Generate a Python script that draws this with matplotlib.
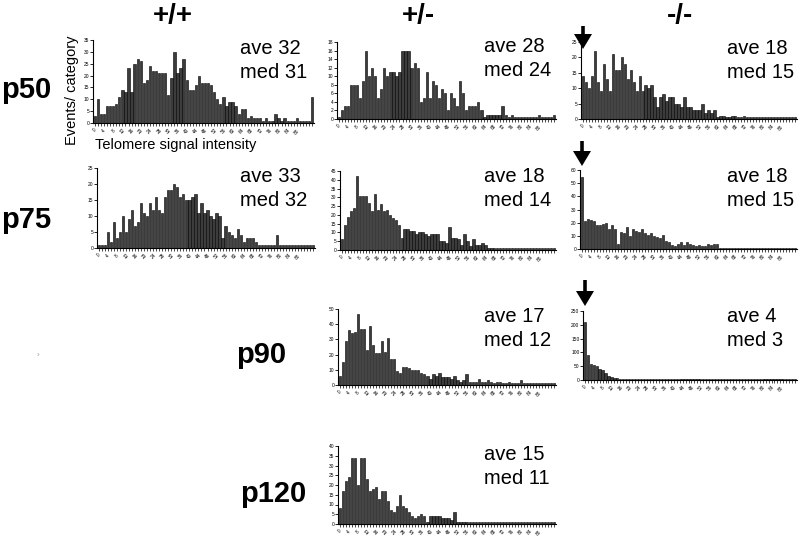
import numpy as np
import matplotlib.pyplot as plt
from matplotlib.patches import Polygon

plt.rcParams['font.family'] = ['Liberation Sans', 'DejaVu Sans']

W, H = 800, 541

tick_labels = ['0', '4', '8', '12', '16', '20', '24', '28', '32', '36', '40', '44',
               '48', '52', '56', '60', '64', '68', '72', '76', '80', '84', '88']

wt_p50 = [3, 10, 4, 4, 7, 7, 7, 8, 11, 14,
          13, 23, 13, 25, 27, 26, 17, 18, 24, 22,
          22, 21, 21, 21, 12, 19, 30, 21, 23, 27,
          18, 14, 14, 16, 20, 17, 17, 17, 16, 13,
          10, 8, 11, 7, 9, 9, 7, 4, 6, 6,
          2, 3, 2, 2, 2, 1, 2, 1, 1, 4,
          2, 1, 2, 1, 1, 1, 2, 1, 1, 1,
          1, 11]
het_p50 = [0.5, 2, 3, 3, 8, 8, 8, 5, 9, 16,
           10, 12, 10, 5, 7, 12, 10, 11, 11, 10,
           11, 16, 16, 16, 12, 13, 12, 4, 5, 11,
           5, 9, 8, 5, 7, 6, 2, 6, 5, 3,
           9, 6, 2, 3, 3, 3, 4, 2, 0.5, 1,
           1, 1, 1, 1, 3, 1, 0.5, 1, 0.5, 0.5,
           0.5, 0.5, 0.5, 0.5, 0.5, 0.5, 1, 0.5, 0.5, 0.5,
           0.5, 1]
ko_p50 = [14, 12, 10, 14, 22, 12, 9, 18, 13, 9,
          21, 16, 16, 20, 18, 13, 16, 12, 9, 14,
          9, 11, 10, 11, 7, 4, 7, 8, 6, 7,
          7, 5, 5, 4, 7, 4, 4, 3, 3, 3,
          5, 2, 3, 2, 3, 0.5, 1, 1, 0.5, 0.5,
          1, 1, 0.5, 0.5, 1, 0.5, 0.5, 0.5, 0.5, 0.5,
          0.5, 0.5, 0.5, 0.5, 0.5, 0.5, 0.5, 0.5, 0.5, 0.5,
          0.5, 0.5]
wt_p75 = [1, 1, 1, 5, 2, 8, 3, 5, 10, 5,
          9, 12, 7, 8, 14, 11, 10, 14, 12, 16,
          12, 11, 16, 18, 18, 20, 19, 16, 17, 15,
          15, 16, 17, 11, 14, 11, 12, 10, 9, 11,
          10, 3, 7, 5, 4, 3, 6, 4, 2, 3,
          3, 3, 2, 1, 1, 1, 1, 1, 1, 4,
          1, 1, 1, 1, 1, 1, 1, 1, 1, 1,
          1, 1]
het_p75 = [6, 14, 19, 22, 24, 42, 31, 31, 31, 27,
           22, 32, 23, 26, 22, 23, 20, 18, 17, 14,
           7, 12, 12, 11, 11, 9, 10, 10, 9, 8,
           9, 9, 9, 5, 5, 4, 13, 7, 7, 6,
           3, 9, 5, 2, 6, 3, 3, 4, 3, 1,
           1, 1, 1, 1, 1, 1, 1, 1, 1, 1,
           1, 1, 1, 1, 1, 1, 1, 1, 1, 1,
           1, 1]
ko_p75 = [55, 21, 23, 22, 21, 18, 18, 19, 20, 15,
          18, 15, 4, 13, 12, 17, 10, 15, 14, 13,
          15, 12, 11, 12, 10, 9, 8, 11, 6, 5,
          3, 2, 4, 5, 3, 5, 4, 3, 2, 3,
          2, 2, 4, 3, 4, 4, 1, 1, 1, 1,
          1, 1, 1, 1, 1, 1, 1, 1, 1, 1,
          1, 1, 1, 1, 1, 1, 1, 1, 1, 1,
          1, 1]
het_p90 = [6, 15, 29, 36, 34, 35, 47, 37, 37, 23,
           39, 26, 21, 21, 29, 22, 31, 17, 17, 9,
           8, 12, 12, 11, 10, 10, 10, 8, 7, 6,
           4, 7, 6, 8, 5, 5, 5, 4, 6, 3,
           2, 3, 7, 2, 2, 2, 4, 2, 2, 3,
           2, 1, 2, 2, 1, 1, 2, 1, 1, 1,
           3, 1, 1, 1, 1, 1, 1, 1, 1, 1,
           1, 1]
ko_p90 = [210, 90, 58, 55, 50, 40, 35, 25, 15, 12,
          8, 8, 5, 5, 5, 5, 5, 5, 5, 5,
          5, 5, 5, 5, 5, 5, 5, 5, 5, 5,
          5, 5, 5, 5, 5, 5, 5, 5, 5, 5,
          5, 5, 5, 5, 5, 5, 5, 5, 5, 5,
          5, 5, 5, 5, 5, 5, 5, 5, 5, 5,
          5, 5, 5, 5, 5, 5, 5, 5, 5, 5,
          5, 5]
het_p120 = [8, 17, 22, 24, 34, 34, 20, 34, 34, 23,
            17, 18, 19, 13, 17, 17, 12, 7, 6, 9,
            15, 9, 8, 6, 4, 3, 4, 5, 4, 1,
            4, 4, 4, 4, 3, 3, 3, 2, 6, 1,
            1, 1, 1, 1, 1, 1, 1, 1, 1, 1,
            1, 1, 1, 1, 1, 1, 1, 1, 1, 1,
            1, 1, 1, 1, 1, 1, 1, 1, 1, 1,
            1, 1]

# (values, ymax, ystep, pixel box left/top/right/bottom, ave, med)
panels = [
    (wt_p50, 35, 5, (93, 40, 314, 123), 32, 31),
    (het_p50, 18, 2, (337, 42, 556, 119), 28, 24),
    (ko_p50, 25, 5, (581, 42, 797, 119), 18, 15),
    (wt_p75, 25, 5, (97, 168, 315, 248), 33, 32),
    (het_p75, 45, 5, (340, 171, 556, 250), 18, 14),
    (ko_p75, 60, 10, (580, 170, 797, 249), 18, 15),
    (het_p90, 50, 10, (338, 309, 556, 385), 17, 12),
    (ko_p90, 250, 50, (583, 311, 797, 380), 4, 3),
    (het_p120, 40, 5, (338, 446, 556, 524), 15, 11),
]
text_pos = [(240, 48), (484, 47), (727, 48), (240, 176), (484, 176),
            (727, 176), (484, 316), (727, 316), (484, 455)]


def fx(x):
    return x / W


def fy(y):
    return 1 - y / H


fig = plt.figure(figsize=(8, 5.41), dpi=100)

for (vals, ymax, ystep, box, ave, med), (tx, ty) in zip(panels, text_pos):
    l, t, r, b = box
    ax = fig.add_axes([fx(l), fy(b), (r - l) / W, (b - t) / H])
    x = np.arange(len(vals))
    ax.bar(x, vals, width=0.75, color='#3c3c3c', edgecolor='black', linewidth=0.4)
    ax.set_xlim(-0.6, 71.6)
    ax.set_ylim(0, ymax)
    ax.spines['top'].set_visible(False)
    ax.spines['right'].set_visible(False)
    ax.spines['left'].set_linewidth(0.8)
    ax.spines['bottom'].set_linewidth(0.8)
    ax.set_yticks(np.arange(0, ymax + 1, ystep))
    ax.tick_params(axis='y', labelsize=3.5, length=2, width=0.6, pad=0.5)
    ax.set_xticks(x)
    ax.set_xticklabels([tick_labels[i // 3] if i % 3 == 0 and i // 3 < len(tick_labels) else ''
                        for i in x], rotation=45, fontsize=3.4)
    ax.tick_params(axis='x', length=2, width=0.5, pad=1.5)
    fig.text(fx(tx), fy(ty), 'ave %d' % ave, fontsize=14.5, va='center', ha='left')
    fig.text(fx(tx), fy(ty + 24), 'med %d' % med, fontsize=14.5, va='center', ha='left')

# column headers
for label, xc in [('+/+', 173), ('+/-', 418), ('-/-', 680)]:
    fig.text(fx(xc), fy(16), label, fontsize=20, fontweight='bold', ha='center', va='center')

# row labels
for label, xl, yc in [('p50', 1, 90), ('p75', 1, 220), ('p90', 236, 355), ('p120', 240, 494)]:
    fig.text(fx(xl), fy(yc), label, fontsize=21, fontweight='bold', ha='left', va='center')

fig.text(fx(72), fy(90), 'Events/ category', fontsize=10.5, rotation=90, ha='center', va='center')
fig.text(fx(95), fy(145), 'Telomere signal intensity', fontsize=10.5, ha='left', va='center')
fig.text(fx(38), fy(355), '\u203a', fontsize=6, color='#999999', ha='center', va='center')

# arrows marking the short-telomere category (drawn in pixel coordinates)
for xa, y0, y1 in [(583, 26, 49), (582, 141, 166), (585, 280, 306)]:
    hl = 15
    pts = [(xa - 1.8, y0), (xa + 1.8, y0), (xa + 1.8, y1 - hl), (xa + 9, y1 - hl),
           (xa, y1), (xa - 9, y1 - hl), (xa - 1.8, y1 - hl)]
    fig.add_artist(Polygon([(fx(px), fy(py)) for px, py in pts], closed=True,
                           facecolor='black', edgecolor='none', transform=fig.transFigure))

fig.savefig('out.png', dpi=100)
